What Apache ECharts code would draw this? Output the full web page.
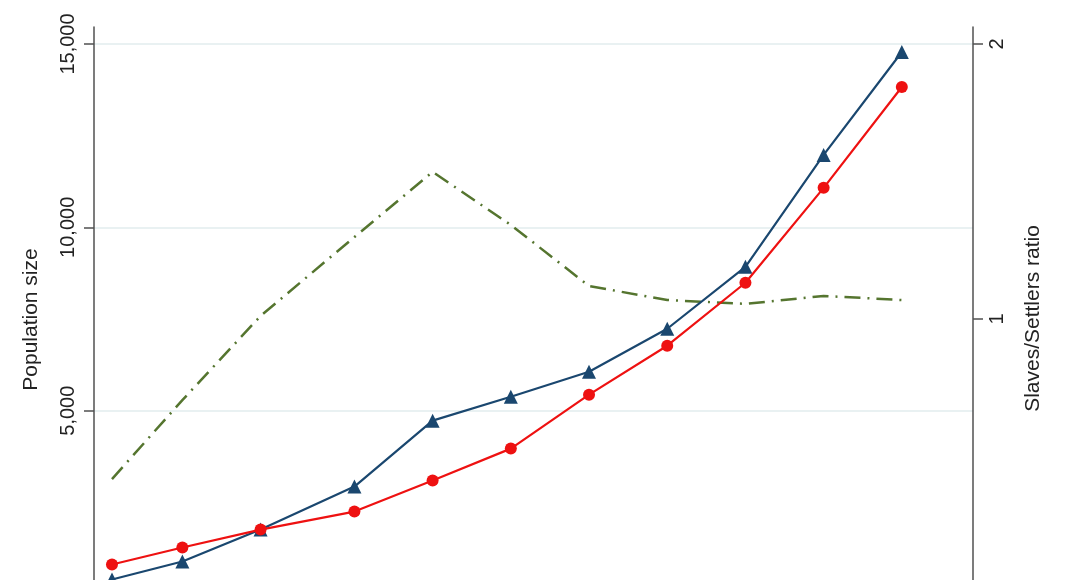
<!DOCTYPE html>
<html>
<head>
<meta charset="utf-8">
<script src="https://cdn.jsdelivr.net/npm/echarts@6/dist/echarts.min.js"></script>
<style>
  html, body { margin: 0; padding: 0; background: #fff; overflow: hidden; }
  /* taller than the window: the bottom of the plot is cropped off as in the reference */
  #chart { width: 1068px; height: 620px; }
</style>
</head>
<body>
<div id="chart"></div>
<script>
// observation years (x positions)
const years = [1700, 1709, 1719, 1731, 1741, 1751, 1761, 1771, 1781, 1791, 1801]
// population series (left axis)
const slaves = [395, 886, 1757, 2929, 4727, 5381, 6063, 7234, 8924, 11975, 14782]
const settlers = [804, 1267, 1757, 2248, 3093, 3965, 5436, 6771, 8488, 11076, 13828]
// slaves / settlers ratio (right axis)
const ratio = [0.418, 0.705, 1.011, 1.298, 1.535, 1.342, 1.12, 1.069, 1.055, 1.084, 1.069]

const leftTicks = { min: 0, max: 15463, interval: 5000 }
const rightTicks = { min: 0, max: 2.0618, interval: 1 }

const pair = arr => years.map((y, i) => [y, arr[i]])

const chart = echarts.init(document.getElementById('chart'))
const font = 'Liberation Sans, Arial, sans-serif'
const axisCol = '#505050'

chart.setOption({
  animation: false,
  grid: { left: 94, right: 95, top: 27, bottom: 26 },
  xAxis: {
    type: 'value',
    min: 1697.7,
    max: 1810.1,
    show: false
  },
  yAxis: [
    {
      type: 'value',
      position: 'left',
      min: leftTicks.min,
      max: leftTicks.max,
      interval: leftTicks.interval,
      name: 'Population size',
      nameLocation: 'middle',
      nameRotate: 90,
      nameGap: 52,
      nameTextStyle: { fontFamily: font, fontSize: 21, color: '#222', padding: [0, 18, 0, 0] },
      axisLine: { show: true, lineStyle: { color: axisCol, width: 1.5 } },
      axisTick: { show: true, length: 10, lineStyle: { color: axisCol, width: 1.5 } },
      axisLabel: {
        rotate: 90,
        margin: 16,
        fontFamily: font,
        fontSize: 20,
        color: '#222',
        showMaxLabel: false,
        formatter: v => v.toLocaleString('en-US')
      },
      splitLine: { show: true, showMaxLine: false, showMinLine: false, lineStyle: { color: '#e2ecee', width: 1.5 } }
    },
    {
      type: 'value',
      position: 'right',
      min: rightTicks.min,
      max: rightTicks.max,
      interval: rightTicks.interval,
      name: 'Slaves/Settlers ratio',
      nameLocation: 'middle',
      nameRotate: 90,
      nameGap: 50,
      nameTextStyle: { fontFamily: font, fontSize: 21, color: '#222', padding: [0, 16, 0, 0] },
      axisLine: { show: true, lineStyle: { color: axisCol, width: 1.5 } },
      axisTick: { show: true, length: 10, lineStyle: { color: axisCol, width: 1.5 } },
      axisLabel: {
        rotate: 90,
        margin: 14,
        fontFamily: font,
        fontSize: 20,
        color: '#222',
        showMaxLabel: false
      },
      splitLine: { show: false }
    }
  ],
  series: [
    {
      name: 'Slaves',
      type: 'line',
      yAxisIndex: 0,
      data: pair(slaves),
      symbol: 'triangle',
      symbolSize: 14,
      lineStyle: { color: '#1a476f', width: 2.2 },
      itemStyle: { color: '#1a476f' },
      z: 3
    },
    {
      name: 'Settlers',
      type: 'line',
      yAxisIndex: 0,
      data: pair(settlers),
      symbol: 'circle',
      symbolSize: 12,
      lineStyle: { color: '#ee1111', width: 2.2 },
      itemStyle: { color: '#ee1111' },
      z: 4
    },
    {
      name: 'Ratio',
      type: 'line',
      yAxisIndex: 1,
      data: pair(ratio),
      symbol: 'none',
      lineStyle: { color: '#55752f', width: 2.5, type: [16, 7, 2, 7] },
      z: 2
    }
  ]
})
</script>
</body>
</html>
